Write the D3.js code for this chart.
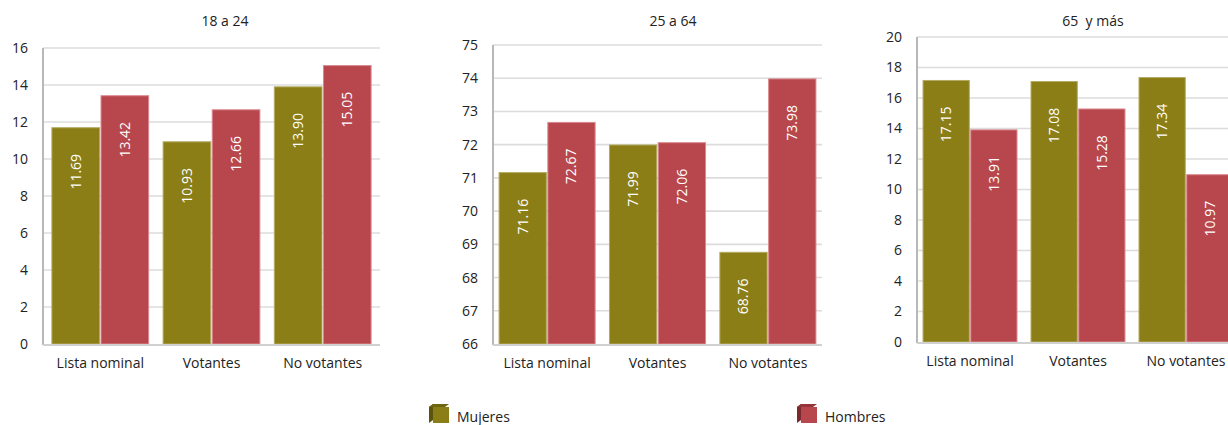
<!DOCTYPE html>
<html><head><meta charset="utf-8">
<script src="https://cdn.jsdelivr.net/npm/d3@7"></script>
<style>
html,body{margin:0;padding:0;background:#fff;}
svg{display:block;font-family:"Open Sans","Noto Sans",sans-serif;}
</style></head>
<body><svg id="c" width="1228" height="425"></svg>
<script>
const categories = ["Lista nominal", "Votantes", "No votantes"];
const seriesNames = ["Mujeres", "Hombres"];
const panelTitles = ["18 a 24", "25 a 64", "65  y más"];
const mujeres18 = [11.69, 10.93, 13.90];
const hombres18 = [13.42, 12.66, 15.05];
const mujeres25 = [71.16, 71.99, 68.76];
const hombres25 = [72.67, 72.06, 73.98];
const mujeres65 = [17.15, 17.08, 17.34];
const hombres65 = [13.91, 15.28, 10.97];
const yTicks18 = [0, 2, 4, 6, 8, 10, 12, 14, 16];
const yTicks25 = [66, 67, 68, 69, 70, 71, 72, 73, 74, 75];
const yTicks65 = [0, 2, 4, 6, 8, 10, 12, 14, 16, 18, 20];

const colors = {Mujeres: "#8b7e16", Hombres: "#b8474d"};
const strokes = {Mujeres: "#b3aa62", Hombres: "#d98a8f"};
const side = {Mujeres: "#5c540c", Hombres: "#7a2a2f"};
const topc = {Mujeres: "#6f6612", Hombres: "#953539"};

const svg = d3.select("#c");

const panels = [
  {title: panelTitles[0], m: mujeres18, h: hombres18, ticks: yTicks18, x0: 43, x1: 380, po: 0.08, y0: 344, y1: 48, tx: 225},
  {title: panelTitles[1], m: mujeres25, h: hombres25, ticks: yTicks25, x0: 493, x1: 822, po: 0.055, y0: 344, y1: 45, tx: 673},
  {title: panelTitles[2], m: mujeres65, h: hombres65, ticks: yTicks65, x0: 917, x1: 1239, po: 0.056, y0: 342, y1: 37, tx: 1093}
];

panels.forEach(p => {
  const g = svg.append("g");
  const y = d3.scaleLinear().domain([p.ticks[0], p.ticks[p.ticks.length - 1]]).range([p.y0, p.y1]);
  const x = d3.scaleBand().domain(categories).range([p.x0, p.x1]).paddingInner(0.13).paddingOuter(p.po);
  const xi = d3.scaleBand().domain(seriesNames).range([0, x.bandwidth()]).paddingInner(0.03);

  // gridlines
  g.append("g").selectAll("line").data(p.ticks.slice(1)).join("line")
    .attr("x1", p.x0).attr("x2", p.x1)
    .attr("y1", d => y(d)).attr("y2", d => y(d))
    .attr("stroke", "#dcdcdc").attr("stroke-width", 1.6);

  // y axis labels
  const ya = d3.axisLeft(y).tickValues(p.ticks).tickSize(0).tickPadding(15);
  const yg = g.append("g").attr("transform", `translate(${p.x0},0)`).call(ya);
  yg.select(".domain").remove();
  yg.selectAll("text").attr("font-size", 14).attr("fill", "#222").attr("font-family", '"Open Sans",sans-serif');

  // bars
  const rows = categories.map((c, i) => ({cat: c, vals: [{s: "Mujeres", v: p.m[i]}, {s: "Hombres", v: p.h[i]}]}));
  const grp = g.selectAll(".grp").data(rows).join("g").attr("transform", d => `translate(${x(d.cat)},0)`);
  grp.selectAll("rect").data(d => d.vals).join("rect")
    .attr("x", d => xi(d.s)).attr("width", xi.bandwidth())
    .attr("y", d => y(d.v)).attr("height", d => p.y0 - y(d.v))
    .attr("fill", d => colors[d.s]).attr("stroke", d => strokes[d.s]).attr("stroke-width", 1);
  grp.selectAll("text").data(d => d.vals).join("text")
    .attr("transform", d => `translate(${xi(d.s) + xi.bandwidth() / 2},${y(d.v) + 44}) rotate(-90)`)
    .attr("text-anchor", "middle").attr("dy", "0.35em")
    .attr("font-size", 14).attr("fill", "#fff")
    .text(d => d.v.toFixed(2));

  // axis lines
  g.append("line").attr("x1", p.x0).attr("x2", p.x0).attr("y1", p.y1).attr("y2", p.y0 + 1)
    .attr("stroke", "#b8b8b8").attr("stroke-width", 2);
  g.append("line").attr("x1", p.x0).attr("x2", p.x1).attr("y1", p.y0 + 1).attr("y2", p.y0 + 1)
    .attr("stroke", "#d0d0d0").attr("stroke-width", 2);

  // x axis labels
  const xa = d3.axisBottom(x).tickSize(0).tickPadding(0);
  const xg = g.append("g").attr("transform", `translate(0,${p.y0 + 24})`).call(xa);
  xg.select(".domain").remove();
  xg.selectAll("text").attr("font-size", 14).attr("fill", "#222").attr("dy", 0)
    .attr("font-family", '"Open Sans",sans-serif');

  // title
  g.append("text").attr("x", p.tx)
    .attr("y", 26).attr("text-anchor", "middle").attr("font-size", 14).attr("fill", "#222")
    .attr("xml:space", "preserve").style("white-space", "pre")
    .text(p.title);
});

// legend
const legendPos = [{s: "Mujeres", x: 429}, {s: "Hombres", x: 797}];
const lg = svg.selectAll(".lg").data(legendPos).join("g").attr("transform", d => `translate(${d.x},404)`);
lg.append("path").attr("d", "M0,3 L4,0 L4,16 L0,19 Z").attr("fill", d => side[d.s]);
lg.append("path").attr("d", "M0,3 L4,0 L20,0 L16,3 Z").attr("fill", d => topc[d.s]);
lg.append("rect").attr("x", 4).attr("y", 3).attr("width", 16).attr("height", 16).attr("fill", d => colors[d.s]);
lg.append("text").attr("x", 28).attr("y", 18).attr("font-size", 14).attr("fill", "#222").text(d => d.s);
</script></body></html>
